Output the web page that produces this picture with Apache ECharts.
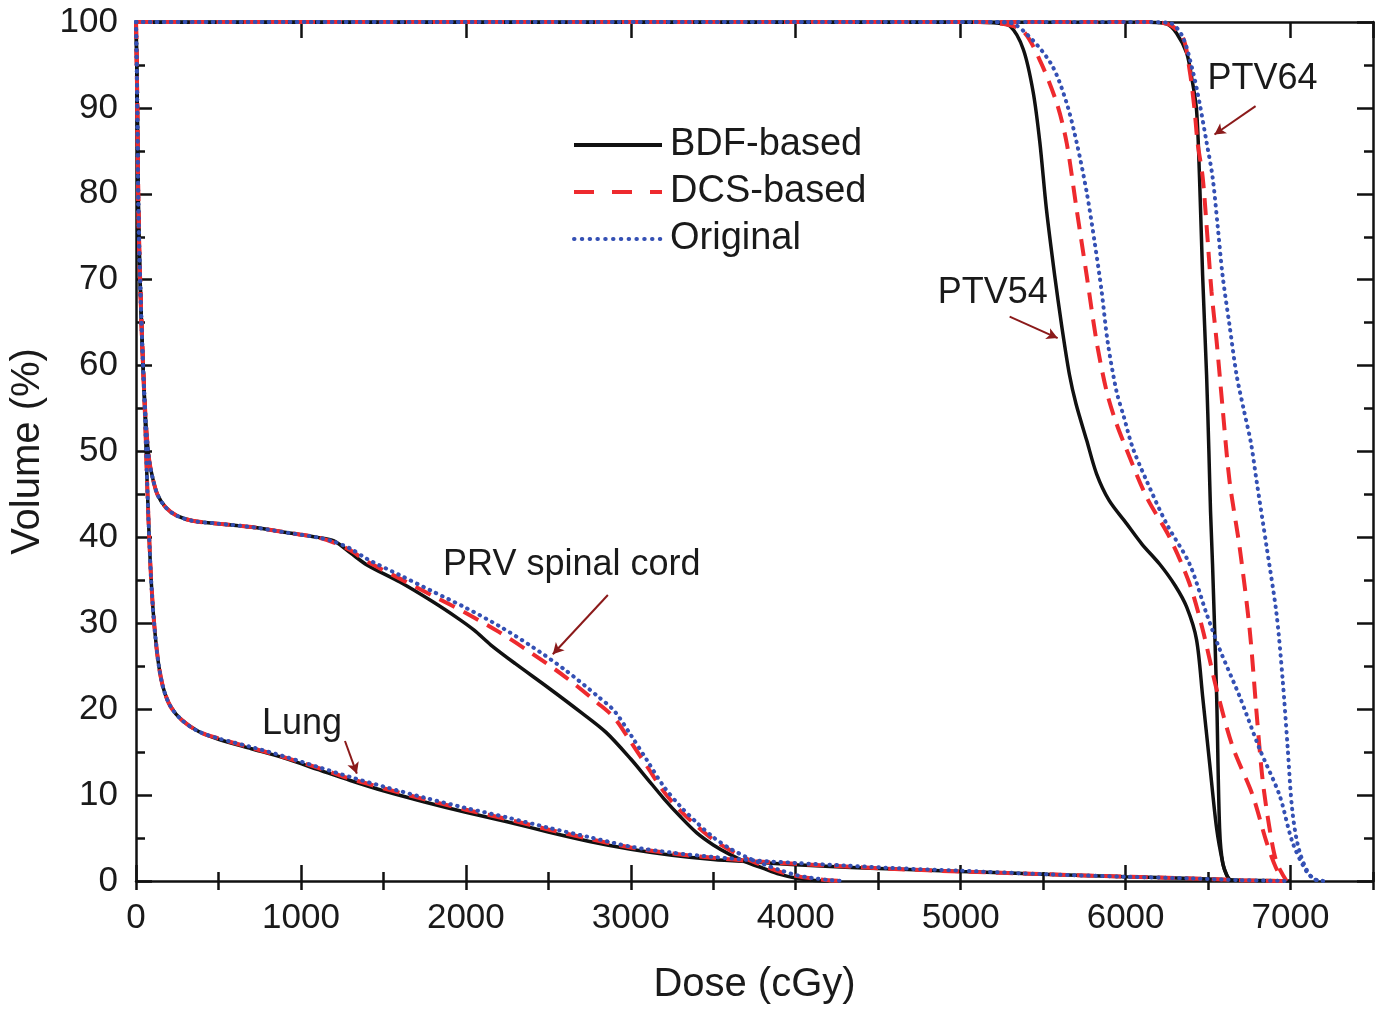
<!DOCTYPE html>
<html>
<head>
<meta charset="utf-8">
<script src="https://cdn.jsdelivr.net/npm/echarts@6/dist/echarts.min.js"></script>
<style>
html,body{margin:0;padding:0;background:#fff;}
#chart{width:1375px;height:1010px;}
</style>
</head>
<body>
<div id="chart"></div>
<script>
// ---- Data: [dose (cGy), volume (%)] ----
const lungBDF = [[0,100],[3,97],[8,90],[12,82],[18,75],[25,70],[35,64],[45,59],[55,54],[63,49],[70,45],[80,40],[92,35],[110,30],[135,25.5],[165,22.5],[210,20.3],[280,18.7],[380,17.4],[500,16.5],[700,15.4],[900,14.3],[1100,13.0],[1300,11.7],[1500,10.5],[1750,9.2],[2000,8.0],[2250,6.9],[2500,5.7],[2750,4.6],[3000,3.7],[3250,3.0],[3500,2.5],[3750,2.2],[4000,1.9],[4300,1.6],[4600,1.4],[5000,1.1],[5500,0.8],[6000,0.5],[6400,0.3],[6700,0.1],[7000,0]];
const lungDCS = [[0,100],[3,97],[8,90],[12,82],[18,75],[25,70],[35,64],[45,59],[55,54],[63,49],[70,45],[80,40],[92,35],[110,30],[135,25.5],[165,22.5],[210,20.3],[280,18.7],[380,17.4],[500,16.6],[700,15.5],[900,14.4],[1100,13.2],[1300,11.9],[1500,10.8],[1750,9.5],[2000,8.3],[2250,7.2],[2500,6.0],[2750,4.9],[3000,3.9],[3250,3.2],[3500,2.7],[3750,2.3],[4000,2.0],[4300,1.7],[4600,1.4],[5000,1.1],[5500,0.8],[6000,0.5],[6400,0.3],[6700,0.1],[7000,0]];
const lungOrig = [[0,100],[3,97],[8,90],[12,82],[18,75],[25,70],[35,64],[45,59],[55,54],[63,49],[70,45],[80,40],[92,35],[110,30],[135,25.5],[165,22.5],[210,20.3],[280,18.7],[380,17.4],[500,16.6],[700,15.6],[900,14.5],[1100,13.3],[1300,12.1],[1500,11.0],[1750,9.7],[2000,8.5],[2250,7.4],[2500,6.2],[2750,5.1],[3000,4.0],[3250,3.3],[3500,2.8],[3750,2.4],[4000,2.1],[4300,1.8],[4600,1.5],[5000,1.2],[5500,0.8],[6000,0.5],[6400,0.3],[6700,0.1],[7000,0]];

const prvBDF = [[0,100],[3,97],[8,90],[12,82],[18,75],[25,70],[35,64],[45,59],[55,55],[65,52],[80,49],[100,47],[130,45],[180,43.5],[250,42.5],[350,41.9],[500,41.6],[700,41.2],[900,40.6],[1100,40.0],[1200,39.6],[1300,38.2],[1400,36.8],[1600,34.8],[1800,32.5],[1950,30.6],[2050,29.2],[2150,27.5],[2300,25.3],[2500,22.5],[2700,19.6],[2850,17.3],[3000,14.2],[3100,11.9],[3200,9.6],[3300,7.5],[3400,5.6],[3500,4.2],[3600,3.1],[3700,2.2],[3800,1.5],[3900,0.8],[4000,0.35],[4100,0.1],[4200,0]];
const prvDCS = [[0,100],[3,97],[8,90],[12,82],[18,75],[25,70],[35,64],[45,59],[55,55],[65,52],[80,49],[100,47],[130,45],[180,43.5],[250,42.5],[350,41.9],[500,41.6],[700,41.2],[900,40.6],[1100,40.0],[1200,39.4],[1300,38.5],[1400,37.2],[1600,35.2],[1800,33.2],[2000,31.2],[2200,29.0],[2400,26.5],[2600,23.8],[2800,20.7],[2900,19.0],[3000,16.2],[3100,13.3],[3200,10.4],[3300,8.2],[3400,6.4],[3500,4.8],[3600,3.6],[3700,2.6],[3800,1.8],[3900,1.1],[4000,0.6],[4100,0.3],[4200,0.1],[4300,0]];
const prvOrig = [[0,100],[3,97],[8,90],[12,82],[18,75],[25,70],[35,64],[45,59],[55,55],[65,52],[80,49],[100,47],[130,45],[180,43.5],[250,42.5],[350,41.9],[500,41.6],[700,41.2],[900,40.6],[1100,40.0],[1200,39.5],[1300,38.7],[1400,37.5],[1600,35.6],[1800,33.7],[2000,31.8],[2200,29.7],[2400,27.3],[2600,24.6],[2800,21.5],[2900,19.8],[3000,17.0],[3100,14.0],[3200,11.0],[3300,8.7],[3400,6.8],[3500,5.1],[3600,3.8],[3700,2.8],[3800,2.0],[3900,1.3],[4000,0.7],[4100,0.35],[4200,0.12],[4300,0]];

const ptv54BDF = [[0,100],[5000,100],[5200,99.9],[5300,99.5],[5380,96.8],[5440,91.8],[5480,86],[5520,78.2],[5570,70.5],[5612,64.7],[5660,58.9],[5700,55.5],[5764,51.3],[5824,47.4],[5900,44.3],[6006,41.6],[6100,39.2],[6206,36.9],[6300,34.4],[6370,31.9],[6430,28.1],[6467,21.5],[6509,13.8],[6552,6.1],[6590,2],[6612,0.7],[6640,0]];
const ptv54DCS = [[0,100],[5100,100],[5250,99.8],[5376,99],[5479,95.6],[5582,90.6],[5642,86],[5703,78.2],[5764,70.5],[5824,62.8],[5885,57],[5940,53.5],[6000,50.5],[6127,44.7],[6267,40],[6388,34.6],[6467,29.3],[6552,22.3],[6648,15.7],[6770,10],[6855,4.5],[6920,1.2],[6970,0]];
const ptv54Orig = [[0,100],[5100,100],[5297,99.9],[5436,97.9],[5558,94.8],[5642,90.6],[5703,86],[5764,80.2],[5812,74.4],[5855,68.6],[5891,62.8],[5945,57],[5990,54],[6042,50.5],[6127,46.6],[6248,41.6],[6388,36.9],[6491,31.1],[6570,27],[6691,21.5],[6812,15.4],[6933,10],[7012,4.5],[7097,1.1],[7150,0.2],[7180,0]];

const ptv64BDF = [[0,100],[6100,100],[6248,99.8],[6309,98.7],[6370,96.4],[6400,93.6],[6430,89.8],[6448,82],[6467,70.5],[6491,58.9],[6505,50],[6515,43],[6527,36.9],[6552,21.5],[6570,6.1],[6590,2],[6630,0]];
const ptv64DCS = [[0,100],[6100,100],[6250,99.8],[6345,98.3],[6388,94.4],[6418,89.8],[6436,86],[6467,82],[6491,76.3],[6521,68.6],[6552,62.8],[6588,55.1],[6630,46.6],[6691,38.9],[6752,29.3],[6794,19.6],[6830,11.9],[6873,6.1],[6915,2.2],[6976,0]];
const ptv64Orig = [[0,100],[6100,100],[6267,99.9],[6345,98.3],[6406,94.4],[6448,90.6],[6491,86],[6527,82],[6558,76.3],[6588,70.5],[6630,64.7],[6673,58.9],[6715,55],[6760,51],[6794,46.6],[6855,38.9],[6915,31.1],[6952,23.5],[6982,15.7],[7012,8],[7055,3.4],[7133,0.3],[7218,0]];

const planNames = ['BDF-based', 'DCS-based', 'Original'];
const xTicksMajor = 1000, xTicksMinor = 500, xMax = 7500;
const yInterval = 10;

// annotations: [label, labelPos, arrowFrom, arrowTo] in data coords
const annotations = [
  ['PTV64', [6830, 93.3], [6788, 90.2], [6539, 86.9]],
  ['PTV54', [5194, 68.5], [5297, 65.7], [5588, 63.2]],
  ['PRV spinal cord', [2642, 36.8], [2861, 33.3], [2527, 26.4]],
  ['Lung', [1006, 18.3], [1267, 16.3], [1339, 12.5]]
];

// ---- Styles ----
const FONT = '"Liberation Sans", Arial, Helvetica, sans-serif';
const styles = {
  'BDF-based': {color: '#111111', width: 3.5, type: 'solid', cap: 'butt', legendType: 'solid'},
  'DCS-based': {color: '#ee2a2e', width: 4, type: [17, 10], cap: 'butt', legendType: [20, 18]},
  'Original':  {color: '#3450b4', width: 4, type: [0.5, 6.5], cap: 'round', legendType: [0.5, 7.3]}
};

const groups = [
  [lungBDF, lungDCS, lungOrig],
  [prvBDF, prvDCS, prvOrig],
  [ptv54BDF, ptv54DCS, ptv54Orig],
  [ptv64BDF, ptv64DCS, ptv64Orig]
];

const series = [];
planNames.forEach((name, pi) => {
  groups.forEach(g => {
    const s = styles[name];
    series.push({
      type: 'line', name: name, data: g[pi],
      xAxisIndex: 0, yAxisIndex: 0,
      showSymbol: false, symbol: 'none',
      smooth: 0.3,
      lineStyle: {color: s.color, width: s.width, type: s.type, cap: s.cap},
      itemStyle: {color: s.color},
      z: 2 + pi, silent: true
    });
  });
});

series.push({
  type: 'line', name: 'annot', data: [], xAxisIndex: 0, yAxisIndex: 0, silent: true,
  markLine: {
    silent: true, symbol: ['none', 'arrow'], symbolSize: [9, 11], animation: false,
    lineStyle: {color: '#8b1a1a', width: 2, type: 'solid'},
    label: {show: false},
    data: annotations.map(a => [{coord: a[2]}, {coord: a[3]}])
  },
  markPoint: {
    silent: true, symbol: 'circle', symbolSize: 0, animation: false,
    itemStyle: {color: 'rgba(0,0,0,0)'},
    label: {show: true, position: 'inside', formatter: '{b}', color: '#1a1a1a', fontSize: 36, fontFamily: FONT},
    data: annotations.map(a => ({name: a[0], coord: a[1], value: 0}))
  }
});

const axisLine = {show: true, onZero: false, lineStyle: {color: '#111', width: 2.5}};
const option = {
  backgroundColor: '#ffffff',
  animation: false,
  grid: {left: 136, top: 22, width: 1237, height: 864, containLabel: false},
  legend: {
    data: planNames.map(n => ({
      name: n,
      itemStyle: {opacity: 0},
      lineStyle: {color: styles[n].color, width: 4, type: styles[n].legendType, cap: styles[n].cap}
    })),
    left: 567, top: 121, orient: 'vertical',
    itemWidth: 88, itemHeight: 14, itemGap: 9,
    itemStyle: {opacity: 0},
    textStyle: {fontSize: 38, fontFamily: FONT, color: '#1a1a1a', padding: [0, 0, 0, 3]},
    selectedMode: false
  },
  xAxis: [
    {type: 'value', position: 'bottom', min: 0, max: xMax, interval: xTicksMajor,
     name: 'Dose (cGy)', nameLocation: 'middle', nameGap: 84,
     nameTextStyle: {fontSize: 40, fontFamily: FONT, color: '#1a1a1a'},
     axisLine: axisLine, splitLine: {show: false},
     axisTick: {inside: true, length: 16, lineStyle: {color: '#111', width: 2.5}},
     axisLabel: {fontSize: 35, fontFamily: FONT, color: '#1a1a1a', margin: 20, showMaxLabel: false,
                 formatter: v => String(v)}},
    {type: 'value', position: 'bottom', min: 0, max: xMax, interval: xTicksMinor,
     axisLine: {show: false}, splitLine: {show: false},
     axisTick: {inside: true, length: 9, lineStyle: {color: '#111', width: 2.5}},
     axisLabel: {show: false}},
    {type: 'value', position: 'top', min: 0, max: xMax, interval: xTicksMajor,
     axisLine: axisLine, splitLine: {show: false},
     axisTick: {inside: true, length: 16, lineStyle: {color: '#111', width: 2.5}},
     axisLabel: {show: false}},
    {type: 'value', position: 'top', min: 0, max: xMax, interval: xTicksMinor,
     axisLine: {show: false}, splitLine: {show: false},
     axisTick: {inside: true, length: 9, lineStyle: {color: '#111', width: 2.5}},
     axisLabel: {show: false}}
  ],
  yAxis: [
    {type: 'value', position: 'left', min: 0, max: 100, interval: yInterval,
     name: 'Volume (%)', nameLocation: 'middle', nameGap: 88,
     nameTextStyle: {fontSize: 40, fontFamily: FONT, color: '#1a1a1a'},
     axisLine: axisLine, splitLine: {show: false},
     axisTick: {inside: true, length: 16, lineStyle: {color: '#111', width: 2.5}},
     minorTick: {show: true, splitNumber: 2, length: 9, lineStyle: {color: '#111', width: 2.5}},
     axisLabel: {fontSize: 35, fontFamily: FONT, color: '#1a1a1a', margin: 18}},
    {type: 'value', position: 'right', min: 0, max: 100, interval: yInterval,
     axisLine: axisLine, splitLine: {show: false},
     axisTick: {inside: true, length: 16, lineStyle: {color: '#111', width: 2.5}},
     minorTick: {show: true, splitNumber: 2, length: 9, lineStyle: {color: '#111', width: 2.5}},
     axisLabel: {show: false}}
  ],
  series: series
};

const chart = echarts.init(document.getElementById('chart'), null, {renderer: 'canvas'});
chart.setOption(option);
</script>
</body>
</html>
